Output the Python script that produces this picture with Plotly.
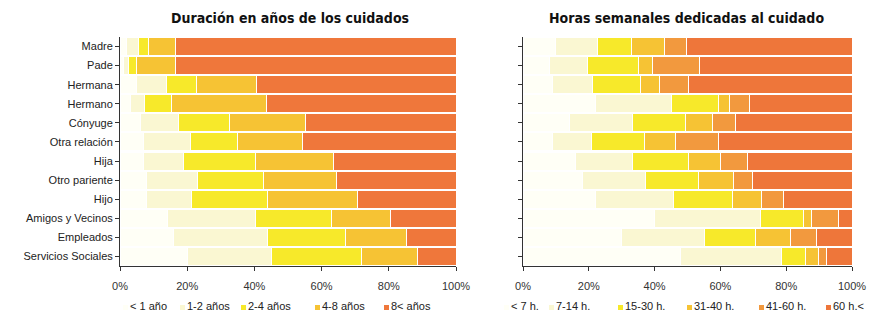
import plotly.graph_objects as go

categories = ["Madre", "Pade", "Hermana", "Hermano", "Cónyuge", "Otra relación",
              "Hija", "Otro pariente", "Hijo", "Amigos y Vecinos", "Empleados",
              "Servicios Sociales"]

tick_vals = [0, 20, 40, 60, 80, 100]
tick_text = ["0%", "20%", "40%", "60%", "80%", "100%"]

# Left chart: Duración en años de los cuidados (%)
dur_labels = ["< 1 año", "1-2 años", "2-4 años", "4-8 años", "8< años"]
dur_lt1 = [2, 1, 5, 3, 6, 7, 7, 8, 8, 14, 16, 20]
dur_1_2 = [3.4, 1.4, 8.9, 4.4, 11.4, 14, 11.8, 15, 13.3, 26.2, 27.9, 25.1]
dur_2_4 = [3, 2.6, 8.9, 8, 15.3, 13.9, 21.4, 19.7, 22.6, 22.6, 23.1, 26.8]
dur_4_8 = [8, 11.4, 17.8, 28.2, 22.4, 19.5, 23.3, 21.6, 26.8, 17.6, 18.3, 16.7]
dur_8p = [83.6, 83.6, 59.4, 56.4, 44.9, 45.6, 36.5, 35.7, 29.3, 19.6, 14.7, 11.4]

# Right chart: Horas semanales dedicadas al cuidado (%)
hrs_labels = ["< 7 h.", "7-14 h.", "15-30 h.", "31-40 h.", "41-60 h.", "60 h.<"]
hrs_lt7 = [10, 8, 9, 22, 14, 9, 16, 18, 22, 40, 30, 48]
hrs_7_14 = [12.7, 11.6, 12, 23.1, 19.3, 11.7, 17.3, 19.2, 23.8, 32.1, 25.2, 30.7]
hrs_15_30 = [10.4, 15.5, 14.7, 14.4, 16.2, 16.2, 17, 16.2, 17.9, 13.2, 15.4, 7.1]
hrs_31_40 = [9.9, 4.4, 5.8, 3.3, 8.1, 9.4, 9.7, 10.6, 8.9, 2.5, 10.6, 4.1]
hrs_41_60 = [6.6, 14.2, 8.7, 6.1, 6.9, 13.2, 8.3, 5.9, 6.6, 8.1, 8.1, 2.3]
hrs_60p = [50.4, 46.3, 49.8, 31.1, 35.5, 40.5, 31.7, 30.1, 20.8, 4.1, 10.7, 7.8]

dur_colors = ["#FFFFF6", "#FAF7D2", "#F7E92A", "#F6C334", "#EF773B"]
hrs_colors = ["#FFFFF6", "#FAF7D2", "#F7E92A", "#F6C334", "#F2993E", "#EE763A"]

fig = go.Figure()

for name, vals, col in zip(dur_labels, [dur_lt1, dur_1_2, dur_2_4, dur_4_8, dur_8p], dur_colors):
    fig.add_trace(go.Bar(
        y=categories, x=vals, name=name, orientation="h", showlegend=False,
        marker=dict(color=col, line=dict(color="white", width=1)),
        xaxis="x", yaxis="y", hoverinfo="x+y+name"))

for name, vals, col in zip(hrs_labels, [hrs_lt7, hrs_7_14, hrs_15_30, hrs_31_40, hrs_41_60, hrs_60p], hrs_colors):
    fig.add_trace(go.Bar(
        y=categories, x=vals, name=name, orientation="h", showlegend=False,
        marker=dict(color=col, line=dict(color="white", width=1)),
        xaxis="x2", yaxis="y2", hoverinfo="x+y+name"))

W, H = 872, 315
label_font = dict(family="Liberation Sans, Arial, sans-serif", size=11, color="#222")
title_font = dict(family="Liberation Sans Narrow, DejaVu Sans Condensed, Arial Narrow, sans-serif",
                  size=14, color="#111")
leg_font = dict(family="Liberation Sans Narrow, Liberation Sans, Arial, sans-serif", size=11, color="#222")

ydom = [1 - 266 / H, 1 - 37 / H]
common_x = dict(range=[0, 100], tickvals=tick_vals, ticktext=tick_text, automargin=False,
                showgrid=False, zeroline=False, showline=True, linecolor="#333", linewidth=1,
                ticks="outside", ticklen=4, tickcolor="#333", ticklabelstandoff=6,
                tickfont=dict(family="Liberation Sans, Arial, sans-serif", size=11, color="#333"))
common_y = dict(autorange="reversed", showgrid=False, zeroline=False, showline=True, automargin=False,
                linecolor="#333", linewidth=1, ticks="outside", ticklen=4, tickcolor="#333",
                domain=ydom)

annotations = [
    dict(text="<b>Duración en años de los cuidados</b>", x=290 / W, y=1 - 18 / H,
         xref="paper", yref="paper", showarrow=False, font=title_font,
         xanchor="center", yanchor="middle"),
    dict(text="<b>Horas semanales dedicadas al cuidado</b>", x=686 / W, y=1 - 18 / H,
         xref="paper", yref="paper", showarrow=False, font=title_font,
         xanchor="center", yanchor="middle"),
]
shapes = []

# Custom legends (marker square + label) placed below each chart
leg_y = 306
left_leg_x = [130, 187, 248, 322, 391]
right_leg_x = [511, 556, 625, 694, 766, 833]
for labels, colors, xs in [(dur_labels, dur_colors, left_leg_x), (hrs_labels, hrs_colors, right_leg_x)]:
    for lab, col, x in zip(labels, colors, xs):
        annotations.append(dict(text=lab, x=x / W, y=1 - leg_y / H, xref="paper", yref="paper",
                                showarrow=False, font=leg_font, xanchor="left", yanchor="middle",
                                xshift=-2))
        shapes.append(dict(type="rect", xref="paper", yref="paper",
                           x0=(x - 7) / W, x1=(x - 2) / W,
                           y0=1 - (leg_y + 4) / H, y1=1 - (leg_y - 1) / H,
                           fillcolor=col, line=dict(width=0)))

fig.update_layout(
    width=W, height=H, autosize=False,
    margin=dict(l=0, r=0, t=0, b=0, pad=0, autoexpand=False),
    paper_bgcolor="white", plot_bgcolor="white",
    barmode="stack", bargap=0.06,
    showlegend=False,
    xaxis=dict(domain=[120 / W, 456 / W], anchor="y", **common_x),
    yaxis=dict(anchor="x", tickfont=label_font, **common_y),
    xaxis2=dict(domain=[523 / W, 852 / W], anchor="y2", **common_x),
    yaxis2=dict(anchor="x2", showticklabels=False, **common_y),
    annotations=annotations,
    shapes=shapes,
)

fig.write_html(
    "out.html",
    config={"responsive": False, "displayModeBar": False},
    post_script=("document.documentElement.style.overflow='hidden';"
                 "document.body.style.margin='0';document.body.style.padding='0';"
                 "document.body.style.overflow='hidden';"),
)
